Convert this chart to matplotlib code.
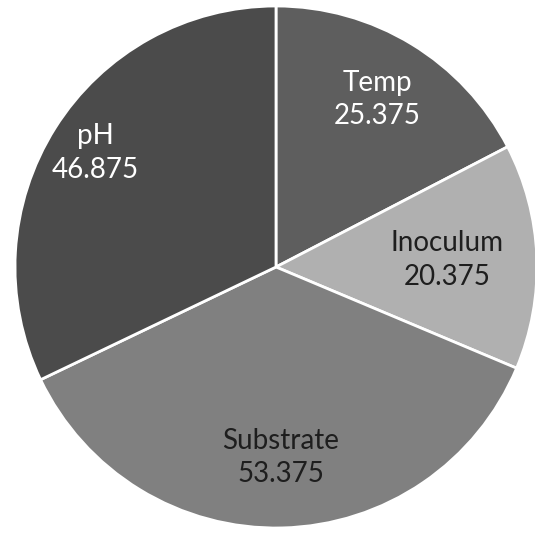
import numpy as np
import matplotlib.pyplot as plt

# Data
labels = ["Temp", "Inoculum", "Substrate", "pH"]
values = [25.375, 20.375, 53.375, 46.875]
value_text = ["25.375", "20.375", "53.375", "46.875"]

colors = ["#5e5e5e", "#b0b0b0", "#808080", "#4b4b4b"]
text_colors = ["white", "#1e1e1e", "#1e1e1e", "white"]
label_dist = [0.75, 0.655, 0.73, 0.82]

plt.rcParams['font.family'] = ['Lato', 'DejaVu Sans']

fig = plt.figure(figsize=(5.35, 5.33), dpi=100)
cx, cy, r = 276, 267, 261  # pixels
ax = fig.add_axes([(cx - r) / 535, (533 - cy - r) / 533, 2 * r / 535, 2 * r / 533])

wedges, _ = ax.pie(values, colors=colors, startangle=90, counterclock=False,
                   wedgeprops=dict(edgecolor="white", linewidth=2))

for w, lab, val, tc, d in zip(wedges, labels, value_text, text_colors, label_dist):
    ang = np.deg2rad((w.theta1 + w.theta2) / 2)
    ax.text(d * np.cos(ang), d * np.sin(ang), lab + "\n" + val,
            ha="center", va="center", fontsize=20, color=tc, linespacing=1.35)

ax.set_xlim(-1, 1)
ax.set_ylim(-1, 1)
ax.set_aspect("equal")
ax.axis("off")

fig.savefig("out.png", dpi=100)
